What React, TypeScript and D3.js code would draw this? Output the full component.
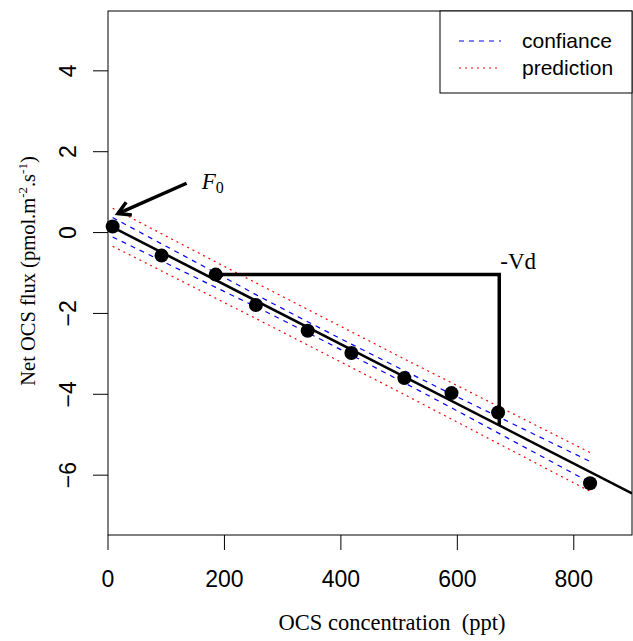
import React from 'react';
import * as d3 from 'd3';

// OCS concentration (ppt) and net flux (pmol.m-2.s-1)
const concentration = [8, 92, 185, 254, 343, 418, 509, 590, 670, 828];
const netFlux = [0.15, -0.57, -1.04, -1.79, -2.43, -2.98, -3.6, -3.97, -4.45, -6.2];

// fitted line and band half-widths at each concentration, as read
const fitIntercept = 0.19;
const fitSlope = -0.00738;
const confHalfWidth = [0.24, 0.21, 0.18, 0.15, 0.135, 0.135, 0.15, 0.17, 0.2, 0.26];
const predHalfWidth = [0.47, 0.46, 0.45, 0.44, 0.44, 0.44, 0.44, 0.45, 0.46, 0.48];

const xTicks = [0, 200, 400, 600, 800];
const yTicks = [-6, -4, -2, 0, 2, 4];
const legendLabels = ['confiance', 'prediction'];

// annotation anchors (data units)
const vdPointIndex = 2;
const vdX = 672;
const f0ArrowFrom = [135, 1.22];
const f0ArrowTo = [17, 0.47];

const W = 633;
const H = 641;
const plot = { left: 108, right: 632, top: 11, bottom: 535 };
const serif = '"Liberation Serif", "Times New Roman", serif';
const sans = '"Liberation Sans", Arial, Helvetica, sans-serif';

export default function App() {
  const x = d3.scaleLinear().domain([0, 900]).range([plot.left, plot.right]);
  const y = d3.scaleLinear().domain([-7.48, 5.48]).range([plot.bottom, plot.top]);

  const fit = (c: number) => fitIntercept + fitSlope * c;
  const bandLine = (half: number[], sign: number) =>
    d3.line<number>()
      .x(c => x(c))
      .y((c, i) => y(fit(c) + sign * half[i]))(concentration) as string;

  // arrow head for F0
  const ax0 = x(f0ArrowFrom[0]), ay0 = y(f0ArrowFrom[1]);
  const ax1 = x(f0ArrowTo[0]), ay1 = y(f0ArrowTo[1]);
  const ang = Math.atan2(ay1 - ay0, ax1 - ax0);
  const headLen = 14;
  const h1 = [ax1 - headLen * Math.cos(ang - Math.PI / 6), ay1 - headLen * Math.sin(ang - Math.PI / 6)];
  const h2 = [ax1 - headLen * Math.cos(ang + Math.PI / 6), ay1 - headLen * Math.sin(ang + Math.PI / 6)];

  const vdY0 = netFlux[vdPointIndex];

  return (
    <svg width={W} height={H} style={{ position: 'absolute', left: 0, top: 0, background: '#fff' }}>
      <defs>
        <clipPath id="plotClip">
          <rect x={plot.left} y={plot.top} width={plot.right - plot.left} height={plot.bottom - plot.top} />
        </clipPath>
      </defs>

      {/* bands */}
      {[1, -1].map(s => (
        <path key={'p' + s} d={bandLine(predHalfWidth, s)} fill="none" stroke="#ff0000" strokeWidth={1.2} strokeDasharray="2,4" />
      ))}
      {[1, -1].map(s => (
        <path key={'c' + s} d={bandLine(confHalfWidth, s)} fill="none" stroke="#0000ff" strokeWidth={1.2} strokeDasharray="5,5" />
      ))}

      {/* regression line */}
      <line clipPath="url(#plotClip)" x1={x(0)} y1={y(fit(0))} x2={x(900)} y2={y(fit(900))} stroke="#000" strokeWidth={2.6} />

      {/* -Vd construction */}
      <polyline
        points={`${x(concentration[vdPointIndex])},${y(vdY0)} ${x(vdX)},${y(vdY0)} ${x(vdX)},${y(fit(vdX))}`}
        fill="none" stroke="#000" strokeWidth={3.5} strokeLinejoin="miter" />
      <text x={x(vdX) + 1} y={y(vdY0) - 6} fontFamily={serif} fontSize={23}>-Vd</text>

      {/* points */}
      {concentration.map((c, i) => (
        <circle key={i} cx={x(c)} cy={y(netFlux[i])} r={7} fill="#000" />
      ))}

      {/* F0 arrow */}
      <line x1={ax0} y1={ay0} x2={ax1} y2={ay1} stroke="#000" strokeWidth={3.5} />
      <polyline points={`${h1[0]},${h1[1]} ${ax1},${ay1} ${h2[0]},${h2[1]}`} fill="none" stroke="#000" strokeWidth={3.5} strokeLinejoin="miter" />
      <text x={x(161)} y={y(1.07)} fontFamily={serif} fontSize={23}>
        <tspan fontStyle="italic">F</tspan>
        <tspan fontSize={16} dy={4}>0</tspan>
      </text>

      {/* box */}
      <rect x={plot.left} y={plot.top} width={plot.right - plot.left} height={plot.bottom - plot.top} fill="none" stroke="#000" strokeWidth={1} />

      {/* x axis */}
      {xTicks.map(t => (
        <g key={t}>
          <line x1={x(t)} x2={x(t)} y1={plot.bottom} y2={plot.bottom + 15} stroke="#000" strokeWidth={1} />
          <text x={x(t)} y={587} textAnchor="middle" fontFamily={sans} fontSize={23}>{t}</text>
        </g>
      ))}
      <text x={392} y={630} textAnchor="middle" fontFamily={serif} fontSize={22.5}>OCS concentration{'\u00a0\u00a0'}(ppt)</text>

      {/* y axis */}
      {yTicks.map(t => (
        <g key={t}>
          <line x1={plot.left} x2={plot.left - 15} y1={y(t)} y2={y(t)} stroke="#000" strokeWidth={1} />
          <text transform={`translate(76,${y(t)}) rotate(-90)`} textAnchor="middle" fontFamily={sans} fontSize={23}>
            {t < 0 ? '\u2212' + Math.abs(t) : t}
          </text>
        </g>
      ))}
      <text transform={`translate(35,271) rotate(-90)`} textAnchor="middle" fontFamily={serif} fontSize={20.5}>
        Net OCS flux (pmol.m<tspan fontSize={13} dy={-8}>-2</tspan>
        <tspan dy={8}>.s</tspan><tspan fontSize={13} dy={-8}>-1</tspan><tspan dy={8}>)</tspan>
      </text>

      {/* legend */}
      <rect x={440} y={plot.top} width={plot.right - 440} height={82} fill="#fff" stroke="#000" strokeWidth={1} />
      {legendLabels.map((lab, i) => (
        <g key={lab}>
          <line x1={459} x2={501} y1={41 + i * 27} y2={41 + i * 27}
            stroke={i === 0 ? '#0000ff' : '#ff0000'} strokeWidth={1.2}
            strokeDasharray={i === 0 ? '5,5' : '2,4'} />
          <text x={522} y={41 + i * 27 + 7} fontFamily={sans} fontSize={21}>{lab}</text>
        </g>
      ))}
    </svg>
  );
}
